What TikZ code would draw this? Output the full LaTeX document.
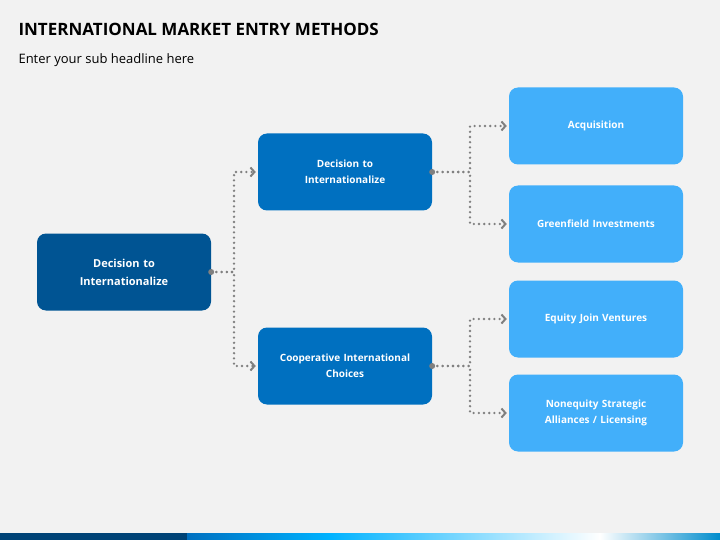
\documentclass[tikz,border=0pt]{standalone}
\usepackage{fontspec}
\setmainfont{Open Sans}
\usetikzlibrary{arrows.meta}
\definecolor{bg}{HTML}{F2F2F2}
\definecolor{cdark}{HTML}{005493}
\definecolor{cmid}{HTML}{0070C0}
\definecolor{clight}{HTML}{42AFFA}
\definecolor{cgray}{HTML}{808080}
\tikzset{
 box/.style={rounded corners=9pt, minimum width=174pt, minimum height=77pt, text width=160pt, align=center, text=white, font=\bfseries\fontsize{10}{16}\selectfont, inner sep=0pt},
 conn/.style={cgray, line width=2.6pt, line cap=round, dash pattern=on 0pt off 5.2pt, -{Straight Barb[length=4pt,width=9pt,line width=2pt,line cap=butt]}},
 dotst/.style={fill=cgray, circle, inner sep=0pt, minimum size=6pt}
}
\begin{document}
\begin{tikzpicture}[x=1pt,y=-1pt]
\fill[bg] (0,0) rectangle (720,540);
\useasboundingbox (0,0) rectangle (720,540);
\fill[cdark!80!black] (0,533) rectangle (187,540);
\shade[left color=cmid, right color=cyan!70!blue] (187,533) rectangle (330,540);
\shade[left color=cyan!70!blue, right color=white] (329.5,533) rectangle (600,540);
\shade[left color=white, right color=cmid!80!cyan] (599.5,533) rectangle (720,540);
\node[anchor=west, font=\bfseries\fontsize{17}{20}\selectfont, text=black] (title) at (15,29) {INTERNATIONAL MARKET ENTRY METHODS};
\node[anchor=west, font=\fontsize{13}{16}\selectfont, text=black] (sub) at (15,60) {Enter your sub headline here};
\node[box, fill=cdark, font=\bfseries\fontsize{11}{18}\selectfont] (root) at (124,272) {Decision to\\Internationalize};
\node[box, fill=cmid] (m1) at (345,172) {Decision to\\Internationalize};
\node[box, fill=cmid] (m2) at (345,366) {Cooperative International\\Choices};
\node[box, fill=clight] (r1) at (596,126) {Acquisition};
\node[box, fill=clight] (r2) at (596,224) {Greenfield Investments};
\node[box, fill=clight] (r3) at (596,319) {Equity Join Ventures};
\node[box, fill=clight] (r4) at (596,413) {Nonequity Strategic\\Alliances / Licensing};
\coordinate (j0) at (234,272);
\coordinate (j1) at (470,172);
\coordinate (j2) at (470,366);
\node[dotst] (d0) at (root.east) {};
\node[dotst] (d1) at (m1.east) {};
\node[dotst] (d2) at (m2.east) {};
\draw[conn] (root.east) -- (j0) |- ([xshift=-2pt]m1.west);
\draw[conn] (root.east) -- (j0) |- ([xshift=-2pt]m2.west);
\draw[conn] (m1.east) -- (j1) |- ([xshift=-2pt]r1.west);
\draw[conn] (m1.east) -- (j1) |- ([xshift=-2pt]r2.west);
\draw[conn] (m2.east) -- (j2) |- ([xshift=-2pt]r3.west);
\draw[conn] (m2.east) -- (j2) |- ([xshift=-2pt]r4.west);
\end{tikzpicture}
\end{document}
